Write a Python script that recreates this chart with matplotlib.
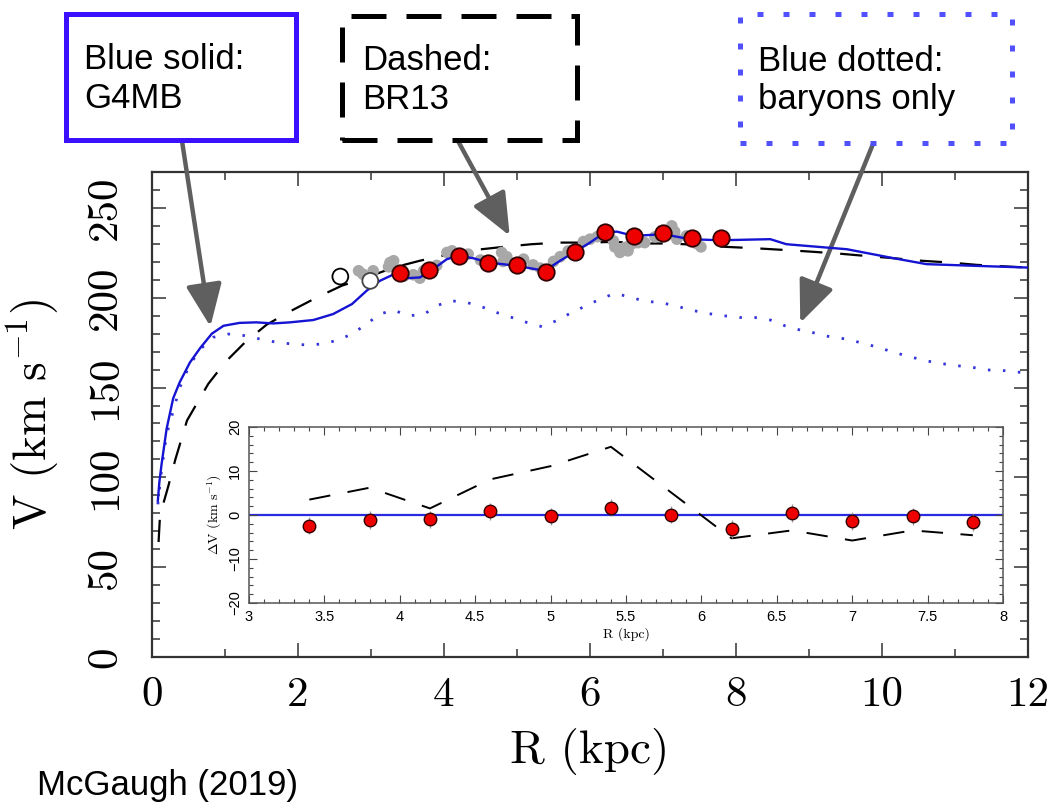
import matplotlib
matplotlib.use("Agg")
import matplotlib.pyplot as plt
from matplotlib.patches import Rectangle
from matplotlib.ticker import MultipleLocator, FuncFormatter

serif = ['cmr10', 'DejaVu Serif']
sans = ['Liberation Sans', 'DejaVu Sans']
plt.rcParams['font.family'] = serif
plt.rcParams['mathtext.fontset'] = 'cm'

# G4MB model (blue solid)
r_g4mb = [0.08, 0.1, 0.13, 0.2, 0.29, 0.38, 0.52, 0.66, 0.82, 0.98, 1.2, 1.43, 1.66, 1.89,
          2.21, 2.48, 2.74, 2.94, 3.12, 3.31, 3.49, 3.67, 3.85, 4.04, 4.2, 4.4, 4.61, 4.99,
          5.38, 5.59, 5.79, 6.0, 6.2, 6.37, 6.6, 7.0, 7.37, 7.78, 8.47, 8.69, 9.52, 10.16,
          10.61, 11.25, 12.0]
v_g4mb = [87, 97, 107, 127, 144, 153, 164, 172, 180, 184.4, 186, 186.3, 185.7, 186.3,
          187.6, 190.9, 196.5, 203.9, 209.4, 213, 210.9, 211.3, 215.9, 221.5, 223.3, 222,
          219.6, 217.8, 215, 220.6, 225.5, 230.7, 236.3, 236.8, 234.4, 235.4, 232.6, 232,
          232.6, 229.8, 227, 222, 218.7, 217.8, 216.8]

# BR13 model (black dashed)
r_br13 = [0.09, 0.11, 0.22, 0.32, 0.48, 0.77, 1.0, 1.27, 1.57, 1.91, 2.26, 2.6, 2.94, 3.31,
          3.67, 4.08, 4.4, 4.81, 5.2, 5.57, 5.95, 6.34, 6.73, 7.1, 7.46, 7.87, 8.24, 8.62,
          9.01, 9.4, 9.77, 10.16, 10.54, 10.93, 11.3, 11.71, 12.0]
v_br13 = [64, 79, 94.6, 110, 131.7, 152, 164, 175, 185, 192.8, 200.2, 206.7, 211.3, 216.8,
          220.6, 224.3, 226.5, 228.3, 229.8, 230.7, 230.7, 231.1, 230.2, 230.2, 229.4, 228.3,
          227.6, 226.7, 225.7, 224.6, 223.3, 222, 220.6, 219.6, 218.3, 217.4, 216.8]

# baryons only (blue dotted)
r_bar = [0.08, 0.13, 0.2, 0.25, 0.38, 0.52, 0.68, 0.84, 1.05, 1.27, 1.48, 1.71, 1.91, 2.12,
         2.35, 2.55, 2.74, 2.94, 3.12, 3.31, 3.51, 3.72, 3.9, 4.1, 4.31, 4.54, 4.72, 4.93,
         5.13, 5.34, 5.54, 5.75, 5.95, 6.14, 6.34, 6.55, 6.75, 6.96, 7.16, 7.39, 7.6, 7.83,
         8.05, 8.26, 8.47, 8.67, 8.88, 9.1, 9.31, 9.52, 9.74, 9.95, 10.16, 10.38, 10.59,
         10.79, 11.02, 11.23, 11.45, 11.68, 12.0]
v_bar = [85, 104, 124, 131, 150, 163, 172, 178, 179.8, 178.9, 177, 175.2, 174.3, 173.7,
         174.3, 176.5, 179.8, 185.4, 190.9, 193.1, 190, 190.6, 195.6, 198.3, 197.4, 194.6,
         191.8, 189, 186.3, 183.9, 187.2, 191.8, 195.6, 199.3, 202.4, 200.4, 198, 197.4,
         195.6, 193.1, 191.3, 190, 189, 189, 187.6, 184.4, 182, 180.2, 178, 177, 174.6,
         172.4, 169.6, 167.2, 165, 163.5, 162.2, 161.3, 159.8, 159.4, 158]

# binned data (red points) and residuals
r_bin = [3.4, 3.8, 4.2, 4.6, 5.0, 5.4, 5.8, 6.2, 6.6, 7.0, 7.4, 7.8]
v_bin = [214, 215.6, 223.3, 219.3, 218.2, 214.4, 225.2, 236.8, 234.4, 235.9, 233.5, 233.5]
dv_bin = [-2.4, -1.1, -1.0, 0.8, -0.3, 1.7, 0.1, -3.2, 0.4, -1.3, -0.3, -1.7]
dv_err = [2, 2, 2, 2, 2, 2, 2, 2, 2, 2, 2, 2]
dv_br13 = [3.5, 6.2, 1.5, 8.1, 11.1, 15.5, 5.1, -5.3, -3.5, -5.8, -3.5, -4.6]

# open circles
r_open = [2.58, 2.99]
v_open = [211.8, 209.4]

# individual measurements (grey)
r_grey = [2.83, 2.89, 3.03, 3.26, 3.31, 3.24, 3.58, 3.67, 3.72, 4.04, 4.11, 4.33, 4.79,
          4.86, 4.81, 5.09, 5.22, 5.32, 5.5, 5.59, 5.91, 6.0, 6.32, 6.41, 6.48, 6.55, 6.66,
          6.34, 6.52, 6.62, 6.75, 6.89, 7.12, 7.16, 7.19, 7.32, 7.46, 7.52, 3.45, 3.9,
          4.5, 5.7, 6.1, 7.0]
v_grey = [215, 213.1, 215, 219.6, 220.6, 217.2, 212.8, 210.9, 215, 225.2, 226.1, 224.3,
          225.2, 222.8, 220.2, 221.5, 218.3, 216.5, 220.2, 222.8, 231.3, 232.6, 231.7, 225.2,
          228, 229.4, 230.7, 228.3, 226.1, 230.7, 230.7, 233.9, 240, 236.8, 232.6, 234.4,
          230.2, 228.3, 212, 218, 221, 226, 234, 236]

fig = plt.figure(figsize=(10.52, 8.05), dpi=100)
W, H = 1052.0, 805.0

def fx(px):
    return px / W

def fy(py):
    return 1 - py / H

def num_fmt(v, pos):
    return ('%g' % v).replace('-', '\u2212')

blue = '#1414d2'

ax = fig.add_axes([fx(152), fy(657), fx(1028) - fx(152), fy(172) - fy(657)])
ax.plot(r_bar, v_bar, color='#3434d8', lw=2.0, ls=(0, (0.9, 4.5)), dash_capstyle='butt')
ax.plot(r_br13, v_br13, color='black', lw=1.6, ls=(0, (10, 8)))
ax.scatter(r_grey, v_grey, s=70, color='#a8a8a8', edgecolors='none', zorder=3)
ax.plot(r_g4mb, v_g4mb, color=blue, lw=1.7, zorder=4)
ax.scatter(r_open, v_open, s=130, facecolors='white', edgecolors=['black', '#444444'],
           linewidths=1.3, zorder=5)
ax.scatter(r_bin, v_bin, s=140, color='#ee0000', edgecolors='#330000', linewidths=1.3, zorder=6)

ax.set_xlim(0, 12)
ax.set_ylim(0, 270)
ax.xaxis.set_major_locator(MultipleLocator(2))
ax.xaxis.set_minor_locator(MultipleLocator(1))
ax.yaxis.set_major_locator(MultipleLocator(50))
ax.yaxis.set_minor_locator(MultipleLocator(10))
ax.tick_params(which='both', direction='in', top=True, right=True, width=1.1, color='#333333')
ax.tick_params(which='major', length=10)
ax.tick_params(which='minor', length=6)
ax.tick_params(axis='x', labelsize=31, pad=14)
ax.tick_params(axis='y', labelsize=31, pad=20, labelrotation=90)
for lab in ax.get_yticklabels():
    lab.set_va('center')
for s in ax.spines.values():
    s.set_linewidth(1.6)
    s.set_color('#333333')
ax.set_xlabel('R (kpc)', fontsize=34, labelpad=10)
ax.set_ylabel('V (km s$^{-1}$)', fontsize=34, labelpad=18)

# inset with residuals
ins = fig.add_axes([fx(249), fy(603), fx(1003) - fx(249), fy(427) - fy(603)])
ins.axhline(0, color='#2a2ae0', lw=1.6, zorder=1)
ins.plot(r_bin, dv_br13, color='black', lw=1.4, ls=(0, (11, 9)), zorder=2)
ins.errorbar(r_bin, dv_bin, yerr=dv_err, fmt='o', ms=9, mfc='#ee0000', mec='#330000',
             mew=1.0, ecolor='#999999', elinewidth=0.9, capsize=0, zorder=3)
ins.set_xlim(3, 8)
ins.set_ylim(-20, 20)
ins.xaxis.set_major_locator(MultipleLocator(0.5))
ins.xaxis.set_minor_locator(MultipleLocator(0.1))
ins.yaxis.set_major_locator(MultipleLocator(10))
ins.yaxis.set_minor_locator(MultipleLocator(2))
ins.xaxis.set_major_formatter(FuncFormatter(num_fmt))
ins.yaxis.set_major_formatter(FuncFormatter(num_fmt))
ins.tick_params(which='both', direction='in', top=True, right=True, color='#444444',
                labelsize=10.5, width=0.8)
ins.tick_params(which='major', length=6)
ins.tick_params(which='minor', length=3)
ins.tick_params(axis='x', pad=5)
ins.tick_params(axis='y', labelrotation=90, pad=5)
for lab in ins.get_xticklabels() + ins.get_yticklabels():
    lab.set_family(sans)
for lab in ins.get_yticklabels():
    lab.set_va('center')
for s in ins.spines.values():
    s.set_linewidth(1.1)
    s.set_color('#555555')
ins.set_xlabel('R (kpc)', fontsize=10, labelpad=2)
ins.set_ylabel(r'$\Delta$V (km s$^{-1}$)', fontsize=10, labelpad=3)

# labelled boxes above the plot
boxes = [
    (66, 14, 296, 140, '#3a10ff', '-', 'Blue solid:\nG4MB', 84),
    (342, 16, 577, 140, 'black', (0, (7, 4)), 'Dashed:\nBR13', 362),
    (740, 14, 1012, 143, '#5050ff', (0, (1.2, 4)), 'Blue dotted:\nbaryons only', 758),
]
for x0, y0, x1, y1, col, ls, txt, tx in boxes:
    fig.patches.append(Rectangle((fx(x0), fy(y1)), fx(x1) - fx(x0), fy(y0) - fy(y1),
                                 transform=fig.transFigure, fill=False, edgecolor=col,
                                 linestyle=ls, linewidth=3.6, joinstyle='miter'))
    fig.text(fx(tx), fy((y0 + y1) / 2 + 2), txt, fontsize=25, family=sans, ha='left',
             va='center', linespacing=1.2)

arrow_kw = dict(arrowstyle='-|>,head_length=1.3,head_width=0.55', color='#5f5f5f',
                lw=3.2, mutation_scale=20, shrinkA=0, shrinkB=0)
ax.annotate('', xy=(0.8, 184), xytext=(fx(182), fy(141)), textcoords='figure fraction',
            arrowprops=arrow_kw, annotation_clip=False)
ax.annotate('', xy=(4.9, 234.5), xytext=(fx(458), fy(141)), textcoords='figure fraction',
            arrowprops=arrow_kw, annotation_clip=False)
ax.annotate('', xy=(8.88, 186), xytext=(fx(873), fy(144)), textcoords='figure fraction',
            arrowprops=arrow_kw, annotation_clip=False)

fig.text(fx(37), fy(785), 'McGaugh (2019)', fontsize=25, family=sans, ha='left', va='center')

fig.savefig('out.png', dpi=100)
